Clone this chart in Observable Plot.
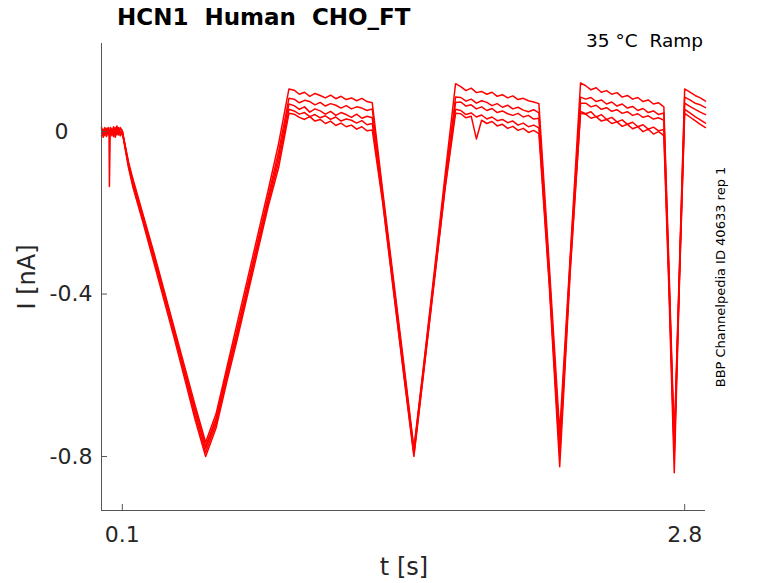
<!DOCTYPE html>
<html>
<head>
<meta charset="utf-8">
<script src="https://cdn.jsdelivr.net/npm/d3@7"></script>
<script src="https://cdn.jsdelivr.net/npm/@observablehq/plot@0.6"></script>
<style>
  html, body { margin: 0; padding: 0; background: #fff; }
  #chart svg { font-family: "DejaVu Sans", sans-serif; }
</style>
</head>
<body>
<div id="chart"></div>
<script>
// time samples (s)
const t = [
  0, 0.008, 0.016, 0.024, 0.032, 0.036, 0.038, 0.042, 0.05, 0.058, 0.066, 0.074, 0.082, 0.09, 0.1,
  0.13, 0.15, 0.2, 0.25, 0.3, 0.35, 0.4, 0.45, 0.5,
  0.55, 0.6, 0.65, 0.7, 0.75, 0.8, 0.85, 0.9,
  0.925, 0.95, 0.975, 1.0, 1.025, 1.05, 1.075, 1.1, 1.125, 1.15, 1.175, 1.2, 1.225, 1.25, 1.275, 1.3,
  1.35, 1.4, 1.45, 1.5,
  1.55, 1.6, 1.65, 1.7,
  1.725, 1.75, 1.775, 1.8, 1.825, 1.85, 1.875, 1.9, 1.925, 1.95, 1.975, 2.0, 2.025, 2.05, 2.075, 2.1,
  2.15, 2.2, 2.25, 2.3,
  2.325, 2.35, 2.375, 2.4, 2.425, 2.45, 2.475, 2.5, 2.525, 2.55, 2.575, 2.6, 2.625, 2.65, 2.675, 2.7,
  2.725, 2.75, 2.775, 2.8,
  2.825, 2.85, 2.875, 2.9
];

// current (nA), five repetitions
const traceA = [
  0.004, -0.008, 0.010, -0.004, 0.006, 0.002, -0.135, 0.006, -0.006, 0.012, -0.002, 0.014, -0.006, 0.008, 0.002,
  -0.075, -0.115, -0.205, -0.295, -0.39, -0.485, -0.58, -0.675, -0.765,
  -0.695, -0.585, -0.475, -0.365, -0.255, -0.145, -0.03, 0.105,
  0.102, 0.092, 0.097, 0.087, 0.094, 0.089, 0.083, 0.090, 0.081, 0.087, 0.079, 0.083, 0.076, 0.082, 0.074, 0.071,
  -0.145, -0.355, -0.565, -0.78,
  -0.56, -0.335, -0.105, 0.118,
  0.111, 0.101, 0.107, 0.096, 0.099, 0.092, 0.097, 0.087, 0.091, 0.083, 0.088, 0.079, 0.082, 0.076, 0.073, 0.069,
  -0.33, -0.74, -0.31, 0.12,
  0.113, 0.103, 0.108, 0.097, 0.101, 0.092, 0.096, 0.085, 0.089, 0.080, 0.084, 0.074, 0.078, 0.068, 0.071, 0.061,
  -0.34, -0.76, -0.33, 0.105,
  0.097, 0.089, 0.083, 0.075
];
const traceB = [
  -0.004, 0.006, -0.010, 0.008, -0.002, 0.004, 0.002, -0.006, 0.008, -0.004, 0.010, -0.008, 0.006, -0.002, 0.000,
  -0.08, -0.12, -0.21, -0.30, -0.395, -0.49, -0.59, -0.685, -0.775,
  -0.705, -0.595, -0.49, -0.38, -0.27, -0.16, -0.05, 0.082,
  0.080, 0.071, 0.077, 0.074, 0.066, 0.072, 0.063, 0.069, 0.065, 0.058, 0.064, 0.056, 0.061, 0.058, 0.052, 0.056,
  -0.155, -0.365, -0.575, -0.785,
  -0.565, -0.345, -0.12, 0.085,
  0.084, 0.075, 0.080, 0.070, 0.076, 0.072, 0.064, 0.069, 0.060, 0.065, 0.056, 0.060, 0.053, 0.049, 0.054, 0.046,
  -0.35, -0.77, -0.32, 0.085,
  0.080, 0.084, 0.074, 0.078, 0.068, 0.073, 0.063, 0.068, 0.058, 0.062, 0.052, 0.057, 0.047, 0.051, 0.042, 0.046,
  -0.36, -0.78, -0.34, 0.085,
  0.078, 0.070, 0.066, 0.059
];
const traceC = [
  0.008, -0.002, 0.004, -0.012, 0.006, -0.004, -0.002, 0.004, -0.010, 0.006, -0.006, 0.004, 0.010, -0.004, -0.002,
  -0.082, -0.125, -0.215, -0.305, -0.40, -0.495, -0.595, -0.69, -0.78,
  -0.712, -0.603, -0.497, -0.387, -0.277, -0.168, -0.062, 0.068,
  0.064, 0.055, 0.061, 0.048, 0.056, 0.051, 0.043, 0.050, 0.040, 0.047, 0.042, 0.035, 0.043, 0.033, 0.038, 0.034,
  -0.16, -0.37, -0.58, -0.79,
  -0.57, -0.35, -0.13, 0.072,
  0.073, 0.063, 0.066, 0.056, 0.061, 0.052, 0.057, 0.047, 0.051, 0.044, 0.040, 0.045, 0.036, 0.040, 0.031, 0.033,
  -0.36, -0.79, -0.33, 0.07,
  0.070, 0.061, 0.065, 0.055, 0.059, 0.050, 0.054, 0.045, 0.049, 0.040, 0.044, 0.035, 0.039, 0.031, 0.034, 0.028,
  -0.37, -0.79, -0.35, 0.07,
  0.062, 0.055, 0.048, 0.042
];
const traceD = [
  -0.010, 0.004, -0.004, 0.006, -0.008, 0.000, 0.004, -0.002, 0.004, -0.012, 0.004, -0.002, -0.008, 0.010, 0.001,
  -0.085, -0.13, -0.22, -0.31, -0.405, -0.50, -0.60, -0.70, -0.79,
  -0.72, -0.61, -0.505, -0.395, -0.285, -0.176, -0.076, 0.055,
  0.051, 0.043, 0.047, 0.037, 0.042, 0.034, 0.039, 0.030, 0.036, 0.026, 0.031, 0.028, 0.021, 0.027, 0.017, 0.020,
  -0.17, -0.38, -0.59, -0.795,
  -0.575, -0.355, -0.135, 0.055,
  0.052, 0.042, 0.046, 0.036, 0.041, 0.031, 0.036, 0.027, 0.030, 0.022, 0.026, 0.016, 0.021, 0.012, 0.016, 0.009,
  -0.37, -0.80, -0.34, 0.05,
  0.044, 0.049, 0.036, 0.042, 0.030, 0.035, 0.024, 0.029, 0.018, 0.023, 0.012, 0.017, 0.006, 0.011, 0.002, 0.005,
  -0.38, -0.80, -0.36, 0.055,
  0.046, 0.037, 0.029, 0.021
];
const traceE = [
  0.012, -0.014, 0.002, 0.000, 0.010, -0.006, -0.004, 0.010, -0.002, 0.002, -0.014, 0.006, 0.002, -0.010, -0.003,
  -0.09, -0.135, -0.225, -0.32, -0.415, -0.51, -0.61, -0.71, -0.80,
  -0.73, -0.62, -0.515, -0.405, -0.295, -0.185, -0.09, 0.045,
  0.043, 0.035, 0.030, 0.037, 0.026, 0.030, 0.020, 0.026, 0.015, 0.021, 0.012, 0.016, 0.006, 0.012, 0.002, 0.004,
  -0.175, -0.385, -0.595, -0.80,
  -0.58, -0.36, -0.14, 0.045,
  0.044, 0.034, 0.038, -0.018, 0.028, 0.020, 0.025, 0.014, 0.018, 0.008, 0.013, 0.003, 0.008, -0.002, 0.003, -0.005,
  -0.38, -0.825, -0.35, 0.045,
  0.043, 0.033, 0.037, 0.026, 0.030, 0.020, 0.024, 0.013, 0.018, 0.007, 0.012, 0.000, 0.006, -0.006, 0.000, -0.010,
  -0.40, -0.84, -0.37, 0.045,
  0.036, 0.027, 0.018, 0.010
];

const xTicks = [0.1, 2.8];
const xTickLabels = ["0.1", "2.8"];
const yTicks = [-0.8, -0.4, 0];
const yTickLabels = ["-0.8", "-0.4", "0"];

const titleText = "HCN1\u00a0\u00a0Human\u00a0\u00a0CHO_FT";
const cornerText = "35 \u00b0C\u00a0\u00a0Ramp";
const sideText = "BBP Channelpedia ID 40633 rep 1";
const xLabel = "t [s]";
const yLabel = "I [nA]";

const xDomain = [0, 2.9];
const yDomain = [-0.933, 0.217];

const W = 778, H = 583;
const mL = 101, mR = 73, mT = 43, mB = 73;

const rows = [traceA, traceB, traceC, traceD, traceE].flatMap((vals, k) =>
  vals.map((v, i) => ({t: t[i], I: v, rep: k}))
);

const pxX = (W - mL - mR) / (xDomain[1] - xDomain[0]);
const pxY = (H - mT - mB) / (yDomain[1] - yDomain[0]);
const tickLen = 6;
const axisColor = "#555";
const textColor = "#262626";

const yTickRows = yTicks.map((v, i) => ({v, label: yTickLabels[i]}));
const xTickRows = xTicks.map((v, i) => ({v, label: xTickLabels[i]}));

const plot = Plot.plot({
  width: W,
  height: H,
  marginLeft: mL,
  marginRight: mR,
  marginTop: mT,
  marginBottom: mB,
  x: {domain: xDomain, axis: null},
  y: {domain: yDomain, axis: null},
  style: {fontFamily: "DejaVu Sans, sans-serif", background: "#fff"},
  marks: [
    Plot.line(rows, {x: "t", y: "I", z: "rep", stroke: "#ff0000", strokeWidth: 1.5}),
    // axis lines
    Plot.ruleX([xDomain[0]], {stroke: axisColor, strokeWidth: 1}),
    Plot.ruleY([yDomain[0]], {stroke: axisColor, strokeWidth: 1}),
    // inward ticks
    Plot.ruleY(yTicks, {x1: xDomain[0], x2: xDomain[0] + tickLen / pxX, stroke: axisColor}),
    Plot.ruleX(xTicks, {y1: yDomain[0], y2: yDomain[0] + tickLen / pxY, stroke: axisColor}),
    // tick labels
    Plot.text(yTickRows.filter(d => d.v !== 0), {x: xDomain[0], y: "v", text: "label", textAnchor: "end", dx: -9, fontSize: 22, fill: textColor}),
    Plot.text(yTickRows.filter(d => d.v === 0), {x: xDomain[0], y: "v", text: "label", textAnchor: "end", dx: -33, fontSize: 22, fill: textColor}),
    Plot.text(xTickRows, {x: "v", y: yDomain[0], text: "label", dy: 24, fontSize: 22, fill: textColor})
  ]
});

document.getElementById("chart").appendChild(plot);

const svg = d3.select(plot);
svg.append("text")
  .attr("x", 117).attr("y", 25)
  .attr("font-size", 23).attr("font-weight", "bold")
  .attr("fill", "#000").attr("text-anchor", "start")
  .text(titleText);
svg.append("text")
  .attr("x", 703).attr("y", 47)
  .attr("font-size", 18.5).attr("fill", "#000").attr("text-anchor", "end")
  .text(cornerText);
svg.append("text")
  .attr("transform", "translate(725,277) rotate(-90)")
  .attr("font-size", 13).attr("fill", "#000").attr("text-anchor", "middle")
  .text(sideText);
svg.append("text")
  .attr("transform", "translate(35,277) rotate(-90)")
  .attr("font-size", 24).attr("fill", textColor).attr("text-anchor", "middle")
  .text(yLabel);
svg.append("text")
  .attr("x", 404).attr("y", 575)
  .attr("font-size", 24).attr("fill", textColor).attr("text-anchor", "middle")
  .text(xLabel);
</script>
</body>
</html>
